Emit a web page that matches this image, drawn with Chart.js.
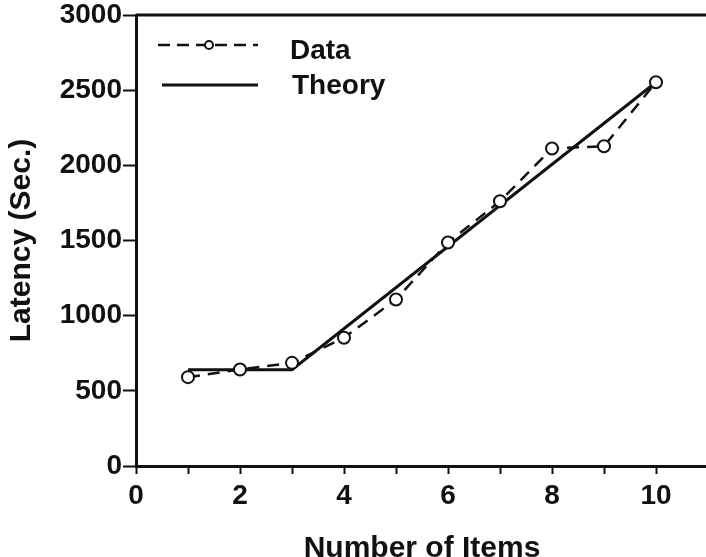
<!DOCTYPE html>
<html>
<head>
<meta charset="utf-8">
<script src="https://cdn.jsdelivr.net/npm/chart.js@4/dist/chart.umd.min.js"></script>
<style>
  html, body { margin: 0; padding: 0; background: #ffffff; overflow: hidden; width: 706px; height: 557px; }
  canvas { display: block; }
</style>
</head>
<body>
<canvas id="c" width="716" height="557"></canvas>
<script>
// ---- data ----
const itemCounts = [1, 2, 3, 4, 5, 6, 7, 8, 9, 10];
const dataLatency = [591, 642, 686, 853, 1108, 1487, 1761, 2112, 2127, 2553];
const theoryItems = [1, 3, 10];
const theoryLatency = [640, 640, 2553];
const xTickLabels = ['0', '2', '4', '6', '8', '10'];
const yTickLabels = ['0', '500', '1000', '1500', '2000', '2500', '3000'];
const seriesNames = ['Data', 'Theory'];
const axisTitles = { x: 'Number of Items', y: 'Latency (Sec.)' };

const FONT = "'Liberation Sans', Arial, Helvetica, sans-serif";

const toPoints = (xs, ys) => xs.map((x, i) => ({ x: x, y: ys[i] }));

const legendPlugin = {
  id: 'insideLegend',
  afterDraw(chart) {
    const ctx = chart.ctx;
    ctx.save();
    ctx.strokeStyle = '#111';
    ctx.fillStyle = '#111';
    // Data row
    ctx.lineWidth = 2.5;
    ctx.setLineDash([12, 7]);
    ctx.beginPath();
    ctx.moveTo(158, 45);
    ctx.lineTo(258, 45);
    ctx.stroke();
    ctx.setLineDash([]);
    ctx.beginPath();
    ctx.arc(209, 45, 4, 0, Math.PI * 2);
    ctx.fillStyle = '#fff';
    ctx.fill();
    ctx.lineWidth = 2;
    ctx.stroke();
    // Theory row
    ctx.lineWidth = 3;
    ctx.beginPath();
    ctx.moveTo(162, 85);
    ctx.lineTo(258, 85);
    ctx.stroke();
    // texts
    ctx.fillStyle = '#111';
    ctx.font = 'bold 28px ' + FONT;
    ctx.textBaseline = 'middle';
    ctx.textAlign = 'left';
    ctx.fillText(seriesNames[0], 290, 51);
    ctx.fillText(seriesNames[1], 292, 86);
    ctx.restore();
  }
};

const framePlugin = {
  id: 'topFrame',
  afterDraw(chart) {
    const a = chart.chartArea;
    const ctx = chart.ctx;
    ctx.save();
    ctx.strokeStyle = '#111';
    ctx.lineWidth = 3;
    ctx.beginPath();
    ctx.moveTo(a.left, a.top);
    ctx.lineTo(a.right, a.top);
    ctx.lineTo(a.right, a.bottom);
    ctx.stroke();
    ctx.restore();
  }
};

new Chart(document.getElementById('c'), {
  type: 'scatter',
  data: {
    datasets: [
      {
        label: seriesNames[1],
        data: toPoints(theoryItems, theoryLatency),
        showLine: true,
        borderColor: '#111',
        borderWidth: 3,
        pointRadius: 0,
        fill: false,
        order: 2
      },
      {
        label: seriesNames[0],
        data: toPoints(itemCounts, dataLatency),
        showLine: true,
        borderColor: '#111',
        borderWidth: 2.5,
        borderDash: [12, 8],
        pointRadius: 6,
        pointBorderWidth: 2,
        pointBackgroundColor: '#ffffff',
        pointBorderColor: '#111',
        fill: false,
        order: 1
      }
    ]
  },
  options: {
    responsive: false,
    animation: false,
    devicePixelRatio: 1,
    layout: { padding: { top: 15, right: 2, bottom: 0, left: 0 } },
    plugins: {
      legend: { display: false },
      tooltip: { enabled: false }
    },
    scales: {
      x: {
        type: 'linear',
        min: 0,
        max: 11,
        afterFit(scale) { scale.height = 91; },
        border: { display: true, color: '#111', width: 3 },
        grid: {
          drawOnChartArea: false,
          drawTicks: true,
          tickLength: 8,
          tickColor: '#111',
          tickWidth: 2
        },
        ticks: {
          stepSize: 1,
          autoSkip: false,
          maxRotation: 0,
          padding: 8,
          color: '#111',
          font: { family: FONT, size: 28, weight: 'bold', lineHeight: 1 },
          callback: (v) => {
            const s = String(v);
            return xTickLabels.includes(s) ? s : '';
          }
        },
        title: {
          display: true,
          text: axisTitles.x,
          color: '#111',
          font: { family: FONT, size: 30, weight: 'bold', lineHeight: 0.55 },
          padding: { top: 0, bottom: 0 }
        }
      },
      y: {
        type: 'linear',
        min: 0,
        max: 3000,
        afterFit(scale) { scale.width = 136; },
        border: { display: true, color: '#111', width: 3 },
        grid: {
          drawOnChartArea: false,
          drawTicks: true,
          tickLength: 13,
          tickColor: '#111',
          tickWidth: 2
        },
        ticks: {
          stepSize: 500,
          padding: 1,
          color: '#111',
          font: { family: FONT, size: 28, weight: 'bold', lineHeight: 1 },
          callback: (v) => {
            const s = String(v);
            return yTickLabels.includes(s) ? s : '';
          }
        },
        title: {
          display: true,
          text: axisTitles.y,
          color: '#111',
          font: { family: FONT, size: 30, weight: 'bold', lineHeight: 1.2 },
          padding: { top: 4, bottom: 0 }
        }
      }
    }
  },
  plugins: [legendPlugin, framePlugin]
});
</script>
</body>
</html>
